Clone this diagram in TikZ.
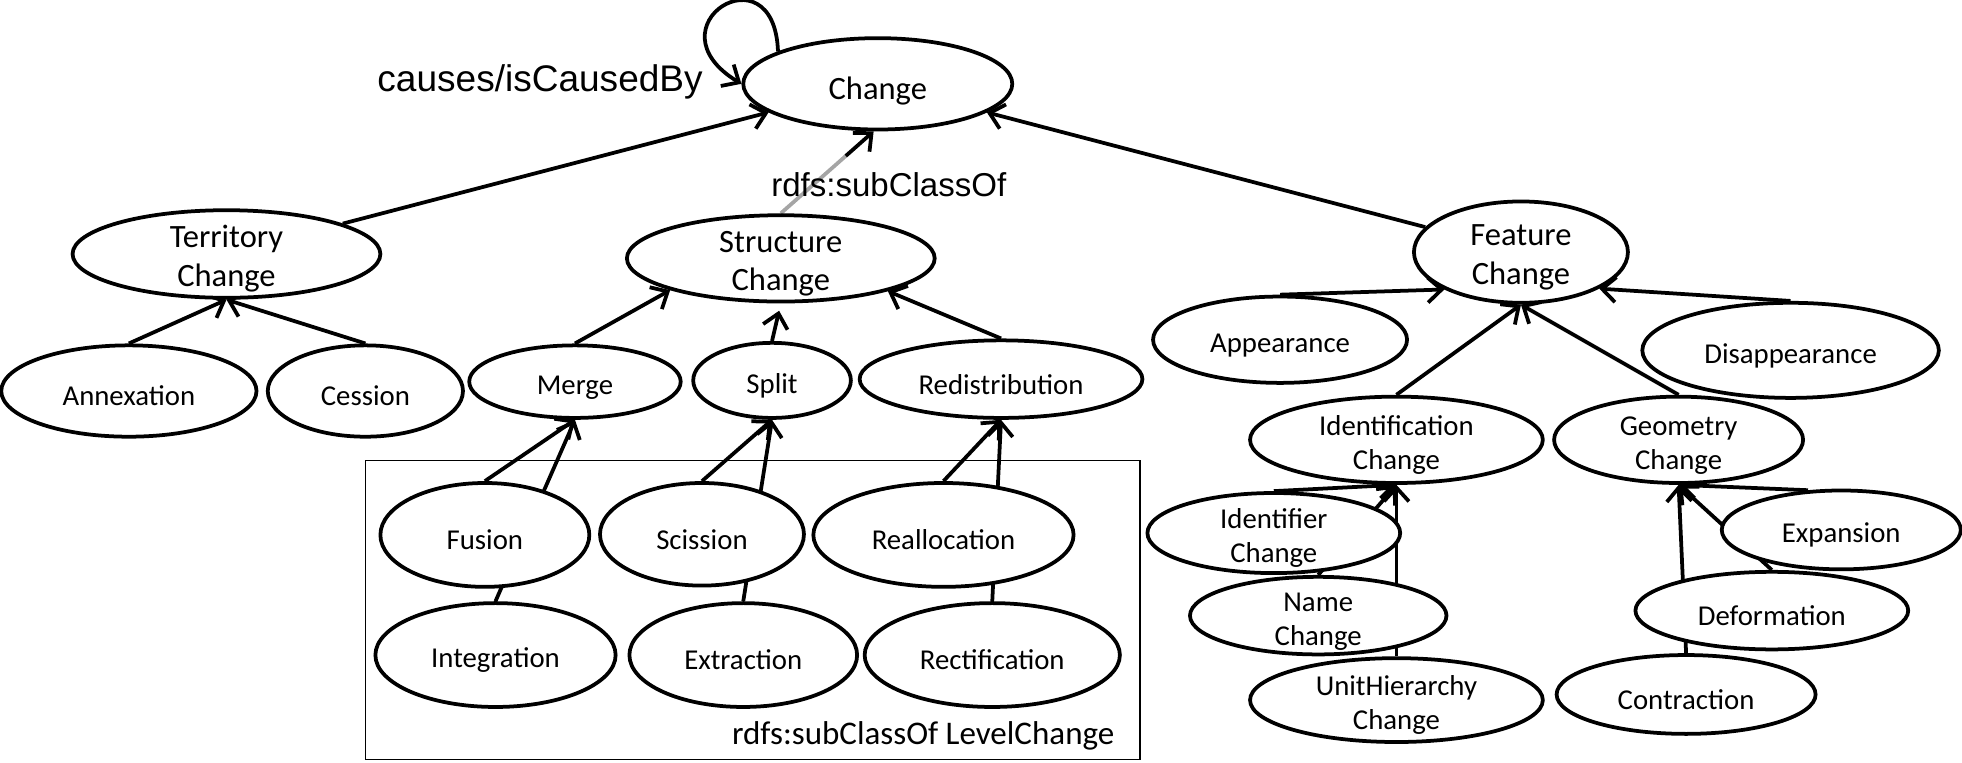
\documentclass[tikz,border=0pt]{standalone}
\usepackage{fontspec}
\setmainfont{Carlito}
\newfontfamily\lsans{Liberation Sans}
\usetikzlibrary{shapes.geometric,arrows.meta,calc,backgrounds}
\begin{document}
\begin{tikzpicture}[x=0.5pt,y=-0.5pt,
  ell/.style={ellipse, draw, line width=1.5pt, fill=white, inner sep=-4pt, align=center},
  big/.style={ell, font=\fontsize{13}{15.5}\selectfont, execute at begin node={\rule{0pt}{14.5pt}}},
  bigtwo/.style={ell, font=\fontsize{13}{15.5}\selectfont, execute at begin node={\rule{0pt}{28.2pt}}},
  sml/.style={ell, font=\fontsize{11.5}{13.5}\selectfont, execute at begin node={\rule{0pt}{12pt}}},
  smltwo/.style={ell, font=\fontsize{11.5}{13.5}\selectfont, execute at begin node={\rule{0pt}{25.6pt}}},
  sz/.style 2 args={minimum width=#1pt, minimum height=#2pt},
  edge/.style={line width=1.5pt, -{Straight Barb[length=5.5pt,width=10pt]}},
  greyedge/.style={line width=1.5pt, draw={rgb,255:red,165;green,165;blue,165}},
  lbl/.style={inner sep=0pt, font=\lsans\fontsize{13.2}{15}\selectfont},
  biglbl/.style={inner sep=0pt, font=\lsans\fontsize{14.8}{17}\selectfont},
  boxlbl/.style={inner sep=0pt, font=\fontsize{13.2}{15}\selectfont},
  groupbox/.style={draw, line width=0.6pt}
]
\useasboundingbox (0,0) rectangle (1568,609);

% top level
\node[big, sz={107.5}{36.5}] (chg) at (701.5,67) {Change};
\node[bigtwo, sz={123}{35}] (ter) at (181,203) {Territory\\Change};
\node[bigtwo, sz={123}{34.5}] (str) at (624,206.5) {Structure\\Change};
\node[bigtwo, sz={85.5}{40.5}] (fea) at (1215.5,201.5) {Feature\\Change};

% territory children
\node[sml, sz={102}{36.5}] (ann) at (103,312.5) {Annexation};
\node[sml, sz={78}{36.5}] (ces) at (292,312.5) {Cession};

% structure children
\node[sml, sz={84.5}{29}] (mer) at (459.5,305) {Merge};
\node[sml, sz={63}{30}] (spl) at (617,304) {Split};
\node[sml, sz={113}{31}] (red) at (800,303) {Redistribution};

% level change group
\node[sml, sz={83.5}{41.5}] (fus) at (387.5,427.5) {Fusion};
\node[sml, sz={81.5}{41}] (sci) at (561,427) {Scission};
\node[sml, sz={104}{41.5}] (rea) at (754,427.5) {Reallocation};
\node[sml, sz={96}{41.5}] (int) at (396,523.5) {Integration};
\node[sml, sz={91}{41.5}] (ext) at (594,523.5) {Extraction};
\node[sml, sz={102}{41.5}] (rec) at (793,523.5) {Rectification};
\node[boxlbl, anchor=base east] (boxlabel) at (891,595) {rdfs:subClassOf LevelChange};

% feature children
\node[sml, sz={101.5}{34.5}] (app) at (1023,271.5) {Appearance};
\node[sml, sz={118.5}{38}] (dis) at (1431,280) {Disappearance};
\node[smltwo, sz={117}{34.5}] (idc) at (1116,351.5) {Identification\\Change};
\node[smltwo, sz={99.5}{34.5}] (geo) at (1341.5,351.5) {Geometry\\Change};
\node[smltwo, sz={101}{32}] (idr) at (1018,426) {Identifier\\Change};
\node[smltwo, sz={102.5}{31}] (nam) at (1053.5,492) {Name\\Change};
\node[smltwo, sz={117}{33.5}] (uni) at (1116,559.5) {UnitHierarchy\\Change};
\node[sml, sz={95.5}{31.5}] (exp) at (1471.5,423.5) {Expansion};
\node[sml, sz={109}{31}] (def) at (1416,488) {Deformation};
\node[sml, sz={103.5}{31.5}] (con) at (1347.5,555) {Contraction};

% labels
\node[biglbl, anchor=base east] (causes) at (562,73) {causes/isCausedBy};

\begin{scope}[on background layer]
  \draw[groupbox] (292,368) rectangle (911,607);
  % to Change
  \draw[edge] (ter) -- (chg);
  \draw[edge] (fea) -- (chg);
  \draw[greyedge] (str.north) -- ($(str.north)!0.7!(chg.265)$);
  \draw[edge] ($(str.north)!0.7!(chg.265)$) -- (chg.265);
  \draw[edge] (chg.162) .. controls +(-3,-84) and +(-76,-46) .. (chg.west);
  % territory
  \draw[edge] (ann.north) -- (ter.south);
  \draw[edge] (ces.north) -- (ter.south);
  % structure
  \draw[edge] (mer.north) -- (str.196);
  \draw[edge, shorten >=3pt] (spl.north) -- (str.south);
  \draw[edge] (red.north) -- (str.343);
  \draw[edge] (fus.north) -- (mer.south);
  \draw[edge] (int.north) -- (mer.south);
  \draw[edge] (sci.north) -- (spl.south);
  \draw[edge] (ext.north) -- (spl.south);
  \draw[edge] (rea.north) -- (red.south);
  \draw[edge] (rec.north) -- (red.south);
  % feature
  \draw[edge] (app.north) -- (fea.206);
  \draw[edge] (dis.north) -- (fea.335);
  \draw[edge] (idc.north) -- (fea.south);
  \draw[edge] (geo.north) -- (fea.south);
  \draw[edge] (idr.north) -- (idc.south);
  \draw[edge] (nam.north) -- (idc.south);
  \draw[edge] (uni.north) -- (idc.south);
  \draw[edge] (exp.130) -- (geo.south);
  \draw[edge] (def.north) -- (geo.south);
  \draw[edge] (con.north) -- (geo.south);
\end{scope}

\node[lbl, anchor=base west] (subcls) at (616,157) {rdfs:subClassOf};
\end{tikzpicture}
\end{document}
